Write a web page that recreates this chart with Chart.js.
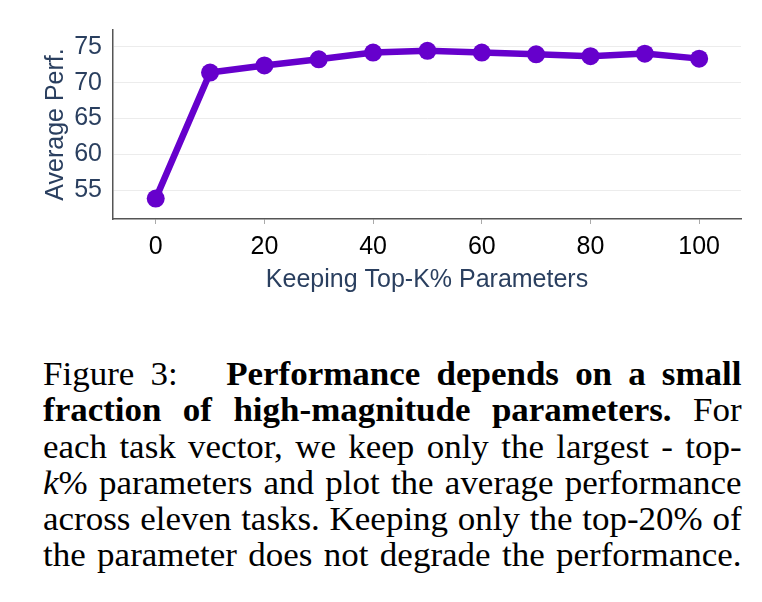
<!DOCTYPE html>
<html>
<head>
<meta charset="utf-8">
<script src="https://cdn.jsdelivr.net/npm/chart.js@4.4.1/dist/chart.umd.min.js"></script>
<style>
  body { margin: 0; background: #fff; width: 762px; height: 602px; position: relative; overflow: hidden; }
  #wrap { position: absolute; left: 0; top: 0; width: 762px; height: 300px; }
  #caption {
    position: absolute; left: 43px; top: 356px; width: 659px;
    transform: scaleX(1.06); transform-origin: 0 0;
    font-family: "Liberation Serif", "Times New Roman", serif;
    font-size: 33px; line-height: 36.3px; color: #000;
  }
  #caption div { text-align: justify; text-align-last: justify; white-space: nowrap; }
  #caption b { font-weight: bold; }
</style>
</head>
<body>
<div id="wrap"><canvas id="perfChart" width="762" height="300"></canvas></div>
<div id="caption">
  <div>Figure 3:&nbsp;&nbsp; <b>Performance depends on a small</b></div>
  <div><b>fraction of high-magnitude parameters.</b> For</div>
  <div>each task vector, we keep only the largest - top-</div>
  <div><i>k</i>% parameters and plot the average performance</div>
  <div>across eleven tasks. Keeping only the top-20% of</div>
  <div>the parameter does not degrade the performance.</div>
</div>
<script>
// data
const topK = [0, 10, 20, 30, 40, 50, 60, 70, 80, 90, 100]
const avgPerf = [53.8, 71.4, 72.4, 73.25, 74.2, 74.45, 74.2, 73.95, 73.7, 74.05, 73.35]
const xTicks = [0, 20, 40, 60, 80, 100]
const yTicks = [55, 60, 65, 70, 75]

const titleColor = "#2a3f5f"
const fontName = "'Liberation Sans', Arial, sans-serif"

const points = topK.map((k, i) => ({ x: k, y: avgPerf[i] }))

const ctx = document.getElementById("perfChart").getContext("2d")
new Chart(ctx, {
    type: "line",
    data: {
        datasets: [{
            data: points,
            borderColor: "rgb(102, 0, 204)",
            backgroundColor: "rgb(102, 0, 204)",
            borderWidth: 6.5,
            pointRadius: 9,
            pointHoverRadius: 9,
            pointBorderWidth: 0,
            tension: 0,
            clip: false
        }]
    },
    options: {
        responsive: false,
        animation: false,
        layout: { padding: { left: 0, right: 21, top: 30, bottom: 0 } },
        plugins: { legend: { display: false }, tooltip: { enabled: false } },
        scales: {
            x: {
                type: "linear",
                min: -7.86,
                max: 107.7,
                afterBuildTicks: scale => { scale.ticks = xTicks.map(v => ({ value: v })) },
                afterFit: scale => { scale.height = 81 },
                grid: { drawOnChartArea: false, drawTicks: true, tickLength: 5, color: "#aaa" },
                border: { color: "#555", width: 1.5 },
                ticks: { color: "#000", font: { family: fontName, size: 25 }, padding: 8, maxRotation: 0 },
                title: {
                    display: true,
                    text: "Keeping Top-K% Parameters",
                    color: titleColor,
                    font: { family: fontName, size: 25 },
                    padding: { top: 0, bottom: 5 }
                }
            },
            y: {
                min: 50.95,
                max: 77.35,
                afterBuildTicks: scale => { scale.ticks = yTicks.map(v => ({ value: v })) },
                afterFit: scale => { scale.width = 113 },
                grid: { color: "#ececec", drawTicks: false, lineWidth: 1 },
                border: { color: "#555", width: 1.5 },
                ticks: { color: titleColor, font: { family: fontName, size: 25 }, padding: 11 },
                title: {
                    display: true,
                    text: "Average Perf.",
                    color: titleColor,
                    font: { family: fontName, size: 25 },
                    padding: { top: 41, bottom: 0 }
                }
            }
        }
    }
})
</script>
</body>
</html>
